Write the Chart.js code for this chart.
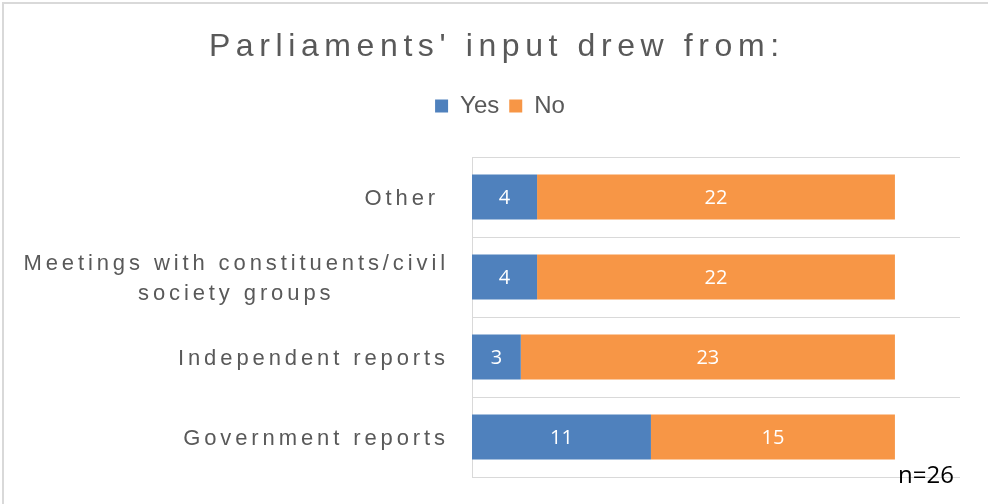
<!DOCTYPE html>
<html>
<head>
<meta charset="utf-8">
<title>Parliaments' input</title>
<script src="https://cdn.jsdelivr.net/npm/chart.js@4"></script>
<style>
  body { margin: 0; background: #fff; overflow: hidden; }
  #frame {
    position: absolute; left: 2px; top: 2px; width: 984px; height: 500px;
    border-left: 2px solid #d9d9d9; border-top: 2px solid #d9d9d9;
  }
  #myChart { position: absolute; left: 0; top: 0; }
</style>
</head>
<body>
<div id="frame"></div>
<canvas id="myChart" width="988" height="504"></canvas>
<script>
const chartTitle = "Parliaments' input drew from:";
const categories = [
    ['Other '],
    ['Meetings with constituents/civil', 'society groups'],
    ['Independent reports'],
    ['Government reports']
];
const yesValues = [4, 4, 3, 11];
const noValues = [22, 22, 23, 15];
const sampleNote = 'n=26';
const axisMax = 30;

// Title, category labels, segment values and the sample size note
const labelPlugin = {
    id: 'labelPlugin',
    afterDatasetsDraw(chart) {
        const ctx = chart.ctx;
        ctx.save();
        ctx.font = '20px "Open Sans"';
        ctx.fillStyle = '#ffffff';
        ctx.textAlign = 'center';
        ctx.textBaseline = 'middle';
        chart.data.datasets.forEach((ds, di) => {
            chart.getDatasetMeta(di).data.forEach((bar, i) => {
                ctx.fillText(ds.data[i], (bar.x + bar.base) / 2, bar.y + 1);
            });
        });
        ctx.restore();
    },
    afterDraw(chart) {
        const ctx = chart.ctx;
        const yScale = chart.scales.y;
        const area = chart.chartArea;
        ctx.save();
        ctx.textAlign = 'left';
        ctx.textBaseline = 'alphabetic';

        // title
        ctx.fillStyle = '#595959';
        ctx.font = '32px "Liberation Sans"';
        ctx.letterSpacing = '5.6px';
        const tw = ctx.measureText(chartTitle).width - 5.6;
        ctx.fillText(chartTitle, (chart.width - tw) / 2, 56);

        // category labels, right aligned, lines centred inside the block
        ctx.font = '22px "Liberation Sans"';
        ctx.letterSpacing = '3.9px';
        const right = yScale.right - 23;
        categories.forEach((lines, i) => {
            const cy = yScale.getPixelForValue(i);
            const widths = lines.map(l => ctx.measureText(l).width);
            const block = Math.max(...widths);
            lines.forEach((line, j) => {
                const ly = cy + (j - (lines.length - 1) / 2) * 30 + 8;
                ctx.fillText(line, right - block / 2 - widths[j] / 2, ly);
            });
        });

        // n=
        ctx.letterSpacing = '0px';
        ctx.fillStyle = '#000000';
        ctx.font = '24px "Open Sans"';
        ctx.fillText(sampleNote, area.right - 62, area.bottom + 6);
        ctx.restore();
    }
};

const myChart = new Chart(document.getElementById('myChart'), {
    type: 'bar',
    data: {
        labels: categories,
        datasets: [
            { label: 'Yes', data: yesValues, backgroundColor: '#4F81BD' },
            { label: 'No', data: noValues, backgroundColor: '#F79646' }
        ]
    },
    options: {
        indexAxis: 'y',
        responsive: false,
        animation: false,
        layout: { padding: { top: 84, left: 40, right: 28, bottom: 27 } },
        datasets: { bar: { barPercentage: 1, categoryPercentage: 0.56 } },
        scales: {
            x: {
                stacked: true,
                min: 0,
                max: axisMax,
                position: 'top',
                grid: { display: false },
                border: { display: false },
                ticks: { display: false },
                afterFit: s => { s.height = 29; }
            },
            y: {
                stacked: true,
                grid: { color: '#d9d9d9', drawTicks: false, offset: true },
                border: { color: '#d9d9d9' },
                ticks: { display: false },
                afterFit: s => { s.width = 432; }
            }
        },
        plugins: {
            legend: {
                position: 'top',
                labels: {
                    boxWidth: 13,
                    boxHeight: 13,
                    padding: 10,
                    color: '#595959',
                    font: { family: 'Liberation Sans', size: 24 }
                }
            },
            tooltip: { enabled: false }
        }
    },
    plugins: [labelPlugin]
});
</script>
</body>
</html>
